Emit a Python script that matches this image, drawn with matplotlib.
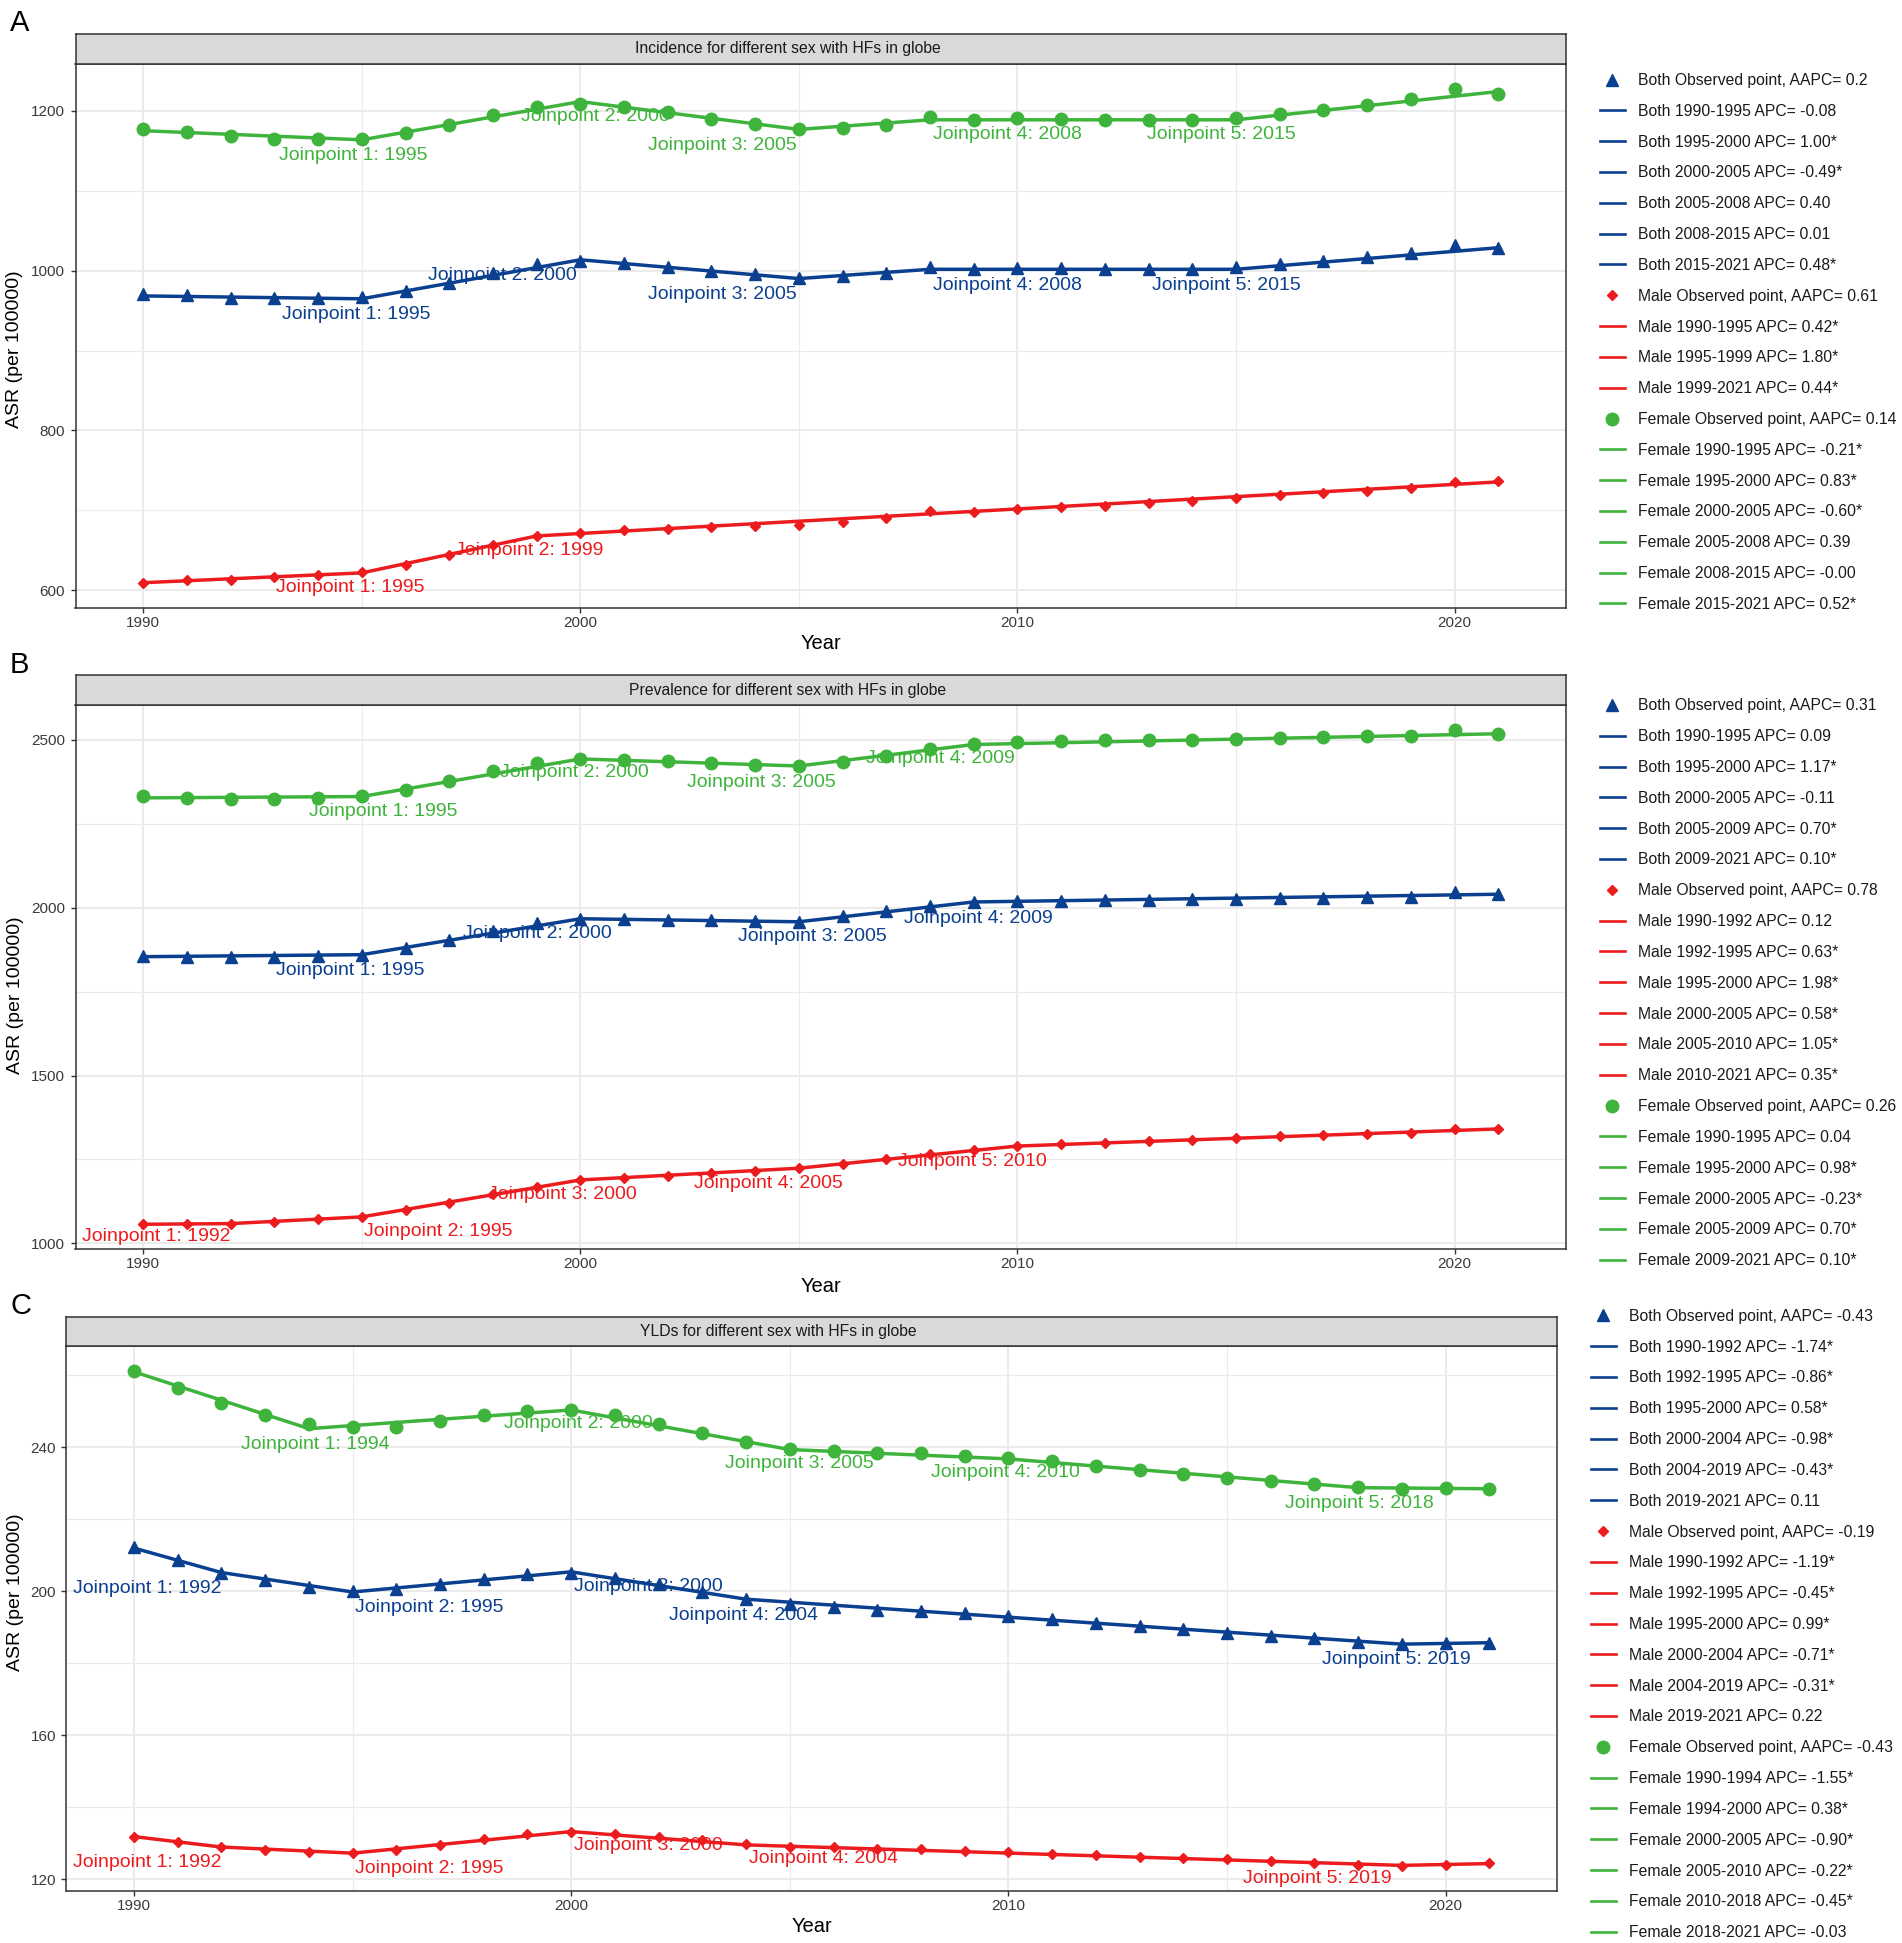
import matplotlib
matplotlib.use('Agg')
import matplotlib.pyplot as plt
from matplotlib.lines import Line2D

plt.rcParams['font.family'] = ['Liberation Sans', 'DejaVu Sans']

# ---------------- DATA ----------------
years = list(range(1990, 2022))

# Panel A: Incidence
inc_both_obs = [970.4, 969.4, 965.2, 965.2, 965.7, 967.3, 974.0, 984.4, 997.4, 1007.8, 1012.0,
                1009.9, 1004.7, 999.0, 995.3, 991.2, 993.2, 996.4, 1004.2, 1001.6, 1003.1, 1002.6,
                1001.6, 1001.6, 1001.6, 1004.2, 1008.3, 1012.5, 1016.6, 1021.8, 1032.2, 1028.6]
inc_male_obs = [608.8, 613.5, 612.5, 616.1, 619.2, 622.9, 632.2, 643.6, 656.6, 668.0, 672.2,
                675.3, 676.9, 679.0, 680.5, 682.0, 685.2, 690.4, 698.7, 697.7, 701.8, 703.9,
                706.0, 709.1, 711.7, 715.8, 719.0, 721.6, 724.7, 727.8, 736.1, 737.1]
inc_female_obs = [1177.7, 1173.5, 1167.8, 1165.2, 1164.2, 1165.2, 1172.0, 1182.3, 1194.8, 1204.7,
                  1208.0, 1205.2, 1199.0, 1189.6, 1183.9, 1177.1, 1178.2, 1182.3, 1192.2, 1188.6,
                  1190.6, 1189.6, 1188.0, 1188.0, 1188.0, 1190.6, 1195.8, 1201.0, 1206.8, 1214.5,
                  1227.5, 1220.8]
inc_both_knots = [1990, 1995, 2000, 2005, 2008, 2015, 2021]
inc_both_fit = [968.3, 964.7, 1013.5, 990.0, 1001.6, 1001.6, 1028.6]
inc_male_knots = [1990, 1995, 1999, 2021]
inc_male_fit = [609.5, 621.8, 668.0, 735.6]
inc_female_knots = [1990, 1995, 2000, 2005, 2008, 2015, 2021]
inc_female_fit = [1175.0, 1163.6, 1211.4, 1176.6, 1188.6, 1188.6, 1224.0]
inc_both_aapc, inc_male_aapc, inc_female_aapc = '0.2', '0.61', '0.14'
inc_both_apc = ['-0.08', '1.00*', '-0.49*', '0.40', '0.01', '0.48*']
inc_male_apc = ['0.42*', '1.80*', '0.44*']
inc_female_apc = ['-0.21*', '0.83*', '-0.60*', '0.39', '-0.00', '0.52*']

# Panel B: Prevalence
prev_both_obs = [1856, 1853, 1853, 1854, 1857, 1860, 1880, 1905, 1931, 1954, 1967, 1967, 1964,
                 1962, 1959, 1958, 1975, 1990, 2005, 2017, 2019, 2021, 2022, 2023, 2025, 2026,
                 2028, 2030, 2032, 2033, 2048, 2042]
prev_male_obs = [1057, 1057, 1058, 1065, 1072, 1079, 1099, 1121, 1146, 1168, 1189, 1196, 1202,
                 1209, 1216, 1225, 1237, 1251, 1265, 1279, 1291, 1295, 1300, 1304, 1309, 1315,
                 1320, 1322, 1326, 1330, 1340, 1341]
prev_female_obs = [2332, 2326, 2325, 2325, 2327, 2333, 2351, 2377, 2406, 2430, 2442, 2441, 2436,
                   2430, 2424, 2422, 2435, 2452, 2473, 2486, 2494, 2496, 2498, 2499, 2500, 2502,
                   2505, 2507, 2510, 2512, 2530, 2517]
prev_both_knots = [1990, 1995, 2000, 2005, 2009, 2021]
prev_both_fit = [1854, 1860, 1967, 1958, 2017, 2040]
prev_male_knots = [1990, 1992, 1995, 2000, 2005, 2010, 2021]
prev_male_fit = [1057, 1059, 1079, 1189, 1224, 1290, 1341]
prev_female_knots = [1990, 1995, 2000, 2005, 2009, 2021]
prev_female_fit = [2327, 2331, 2443, 2422, 2486, 2518]
prev_both_aapc, prev_male_aapc, prev_female_aapc = '0.31', '0.78', '0.26'
prev_both_apc = ['0.09', '1.17*', '-0.11', '0.70*', '0.10*']
prev_male_apc = ['0.12', '0.63*', '1.98*', '0.58*', '1.05*', '0.35*']
prev_female_apc = ['0.04', '0.98*', '-0.23*', '0.70*', '0.10*']

# Panel C: YLDs
yld_both_obs = [212.3, 208.8, 205.2, 203.1, 201.2, 200.1, 200.6, 202.0, 203.4, 204.7, 205.2,
                203.8, 202.0, 199.8, 197.8, 196.5, 195.6, 194.9, 194.6, 193.9, 193.2, 192.3,
                191.2, 190.3, 189.4, 188.5, 187.7, 186.9, 186.0, 185.3, 185.7, 185.6]
yld_male_obs = [131.8, 130.3, 128.9, 128.1, 127.5, 127.2, 128.1, 129.5, 131.0, 132.4, 133.2,
                132.5, 131.7, 130.9, 129.7, 129.0, 128.8, 128.4, 128.3, 127.8, 127.5, 126.9,
                126.6, 126.2, 125.9, 125.5, 125.1, 124.6, 124.0, 123.7, 124.0, 124.4]
yld_female_obs = [261.3, 256.6, 252.4, 248.9, 246.6, 245.6, 245.8, 247.2, 248.9, 250.2, 250.3,
                  248.9, 246.6, 243.9, 241.5, 239.5, 239.0, 238.4, 238.4, 237.6, 237.0, 236.1,
                  234.8, 233.6, 232.5, 231.6, 230.6, 229.7, 228.9, 228.4, 228.7, 228.3]
yld_both_knots = [1990, 1992, 1995, 2000, 2004, 2019, 2021]
yld_both_fit = [212.0, 205.2, 199.8, 205.4, 197.8, 185.3, 185.7]
yld_male_knots = [1990, 1992, 1995, 2000, 2004, 2019, 2021]
yld_male_fit = [131.8, 128.9, 127.2, 133.2, 129.5, 123.8, 124.3]
yld_female_knots = [1990, 1994, 2000, 2005, 2010, 2018, 2021]
yld_female_fit = [261.0, 245.2, 250.4, 239.4, 236.8, 228.8, 228.5]
yld_both_aapc, yld_male_aapc, yld_female_aapc = '-0.43', '-0.19', '-0.43'
yld_both_apc = ['-1.74*', '-0.86*', '0.58*', '-0.98*', '-0.43*', '0.11']
yld_male_apc = ['-1.19*', '-0.45*', '0.99*', '-0.71*', '-0.31*', '0.22']
yld_female_apc = ['-1.55*', '0.38*', '-0.90*', '-0.22*', '-0.45*', '-0.03']

titles = ['Incidence for different sex with HFs in globe',
          'Prevalence for different sex with HFs in globe',
          'YLDs for different sex with HFs in globe']
letters = ['A', 'B', 'C']
sexes = ['Both', 'Male', 'Female']

# ---------------- STYLE / LAYOUT ----------------
COL = {'Both': '#0B3F8F', 'Male': '#EC1C1E', 'Female': '#3FB43C'}
MRK = {'Both': ('^', 9), 'Male': ('D', 5), 'Female': ('o', 9)}
W, H = 1902, 1943

def fx(px):
    return px / W

def fy(py):
    return 1 - py / H

panels = [
    dict(obs=[inc_both_obs, inc_male_obs, inc_female_obs],
         knots=[inc_both_knots, inc_male_knots, inc_female_knots],
         fit=[inc_both_fit, inc_male_fit, inc_female_fit],
         aapc=[inc_both_aapc, inc_male_aapc, inc_female_aapc],
         apc=[inc_both_apc, inc_male_apc, inc_female_apc],
         major=[600, 800, 1000, 1200], minor=[700, 900, 1100],
         left=75.5, right=1566, strip_top=34, top=64, bottom=608, title_x=787.5,
         letter_base=31, ylab=(15, 349.5), xlab_y=643, leg=(1600, 79.2),
         offs=[[(-6, 16), (-78, 16), (-77, 16), (77, 16), (-10, 16)],
               [(-12, 15), (-7, 15)],
               [(-9, 16), (15, 15), (-77, 16), (77, 15), (-15, 15)]]),
    dict(obs=[prev_both_obs, prev_male_obs, prev_female_obs],
         knots=[prev_both_knots, prev_male_knots, prev_female_knots],
         fit=[prev_both_fit, prev_male_fit, prev_female_fit],
         aapc=[prev_both_aapc, prev_male_aapc, prev_female_aapc],
         apc=[prev_both_apc, prev_male_apc, prev_female_apc],
         major=[1000, 1500, 2000, 2500], minor=[1250, 1750, 2250],
         left=75.5, right=1566, strip_top=675, top=705, bottom=1249, title_x=787.8,
         letter_base=673, ylab=(15.3, 995.4), xlab_y=1286, leg=(1600, 704.6),
         offs=[[(-12, 16), (-43, 15), (13, 15), (5, 17)],
               [(-74, 13), (76, 15), (-18, 15), (-30, 15), (-45, 15)],
               [(21, 15), (-6, 14), (-38, 17), (-33, 14)]]),
    dict(obs=[yld_both_obs, yld_male_obs, yld_female_obs],
         knots=[yld_both_knots, yld_male_knots, yld_female_knots],
         fit=[yld_both_fit, yld_male_fit, yld_female_fit],
         aapc=[yld_both_aapc, yld_male_aapc, yld_female_aapc],
         apc=[yld_both_apc, yld_male_apc, yld_female_apc],
         major=[120, 160, 200, 240], minor=[140, 180, 220, 260],
         left=66.3, right=1557, strip_top=1316.6, top=1346, bottom=1890.5, title_x=778.6,
         letter_base=1314, ylab=(15.3, 1592), xlab_y=1927, leg=(1591, 1315),
         offs=[[(-74, 16), (77, 16), (77, 15), (-3, 16), (-5, 15)],
               [(-74, 15), (77, 15), (77, 14), (77, 14), (-84, 13)],
               [(6, 16), (7, 14), (10, 14), (-3, 14), (1, 16)]]),
]

fig = plt.figure(figsize=(W / 100, H / 100), dpi=100)

for p, title, letter in zip(panels, titles, letters):
    l, r, t, b = p['left'], p['right'], p['top'], p['bottom']
    ax = fig.add_axes([fx(l), fy(b), fx(r - l), (b - t) / H])
    sax = fig.add_axes([fx(l), fy(t), fx(r - l), (t - p['strip_top']) / H])

    # strip
    sax.set_facecolor('#D9D9D9')
    sax.set_xticks([]); sax.set_yticks([])
    for s in sax.spines.values():
        s.set_color('#333333'); s.set_linewidth(1.1)
    sax.text((p['title_x'] - l) / (r - l), 0.5, title, ha='center', va='center',
             fontsize=11.3, color='#1A1A1A', transform=sax.transAxes)

    allv = [v for series in p['obs'] for v in series]
    lo, hi = min(allv), max(allv)
    pad = (hi - lo) * 0.05
    ax.set_ylim(lo - pad, hi + pad)
    ax.set_xlim(1990 - 31 * 0.05, 2021 + 31 * 0.05)

    ax.set_xticks([1990, 2000, 2010, 2020])
    ax.set_xticks([1995, 2005, 2015], minor=True)
    ax.set_yticks(p['major'])
    ax.set_yticks(p['minor'], minor=True)
    ax.grid(which='major', color='#EBEBEB', lw=1.4, zorder=0)
    ax.grid(which='minor', color='#EBEBEB', lw=0.8, zorder=0)
    ax.set_axisbelow(True)
    ax.tick_params(which='major', length=3.4, width=1.0, color='#333333',
                   labelsize=11, labelcolor='#3A3A3A')
    ax.tick_params(axis='y', which='major', pad=4)
    ax.tick_params(axis='x', which='major', pad=2.5)
    ax.tick_params(which='minor', length=0)
    for s in ax.spines.values():
        s.set_color('#333333'); s.set_linewidth(1.1)

    handles, labels = [], []
    for i, sex in enumerate(sexes):
        c = COL[sex]
        m, ms = MRK[sex]
        kn, ft = p['knots'][i], p['fit'][i]
        ax.plot(kn, ft, color=c, lw=2.5, solid_capstyle='round', zorder=3)
        ax.plot(years, p['obs'][i], ls='none', marker=m, ms=ms, color=c, zorder=4)
        # joinpoint labels
        for k in range(1, len(kn) - 1):
            dx, dy = p['offs'][i][k - 1]
            ax.annotate('Joinpoint %d: %d' % (k, kn[k]), xy=(kn[k], ft[k]),
                        xytext=(dx, -dy), textcoords='offset pixels',
                        ha='center', va='center', fontsize=14, color=c, zorder=6)
        handles.append(Line2D([], [], ls='none', marker=m, ms=ms, color=c))
        labels.append('%s Observed point, AAPC= %s' % (sex, p['aapc'][i]))
        for j, apc in enumerate(p['apc'][i]):
            handles.append(Line2D([], [], color=c, lw=1.9))
            labels.append('%s %d-%d APC= %s' % (sex, kn[j], kn[j + 1], apc))

    lx, ly = p['leg']
    leg = ax.legend(handles, labels, loc='upper left', bbox_to_anchor=(fx(lx), fy(ly - 6.2)),
                    bbox_transform=fig.transFigure, frameon=False, fontsize=11.3,
                    borderpad=0, borderaxespad=0, handlelength=1.57, handletextpad=0.85,
                    labelspacing=1.008)
    for txt in leg.get_texts():
        txt.set_color('#1A1A1A')

    fig.text(fx(p['ylab'][0]), fy(p['ylab'][1]), 'ASR (per 100000)', rotation=90,
             ha='center', va='center', fontsize=14)
    fig.text(fx((l + r) / 2), fy(p['xlab_y']), 'Year', ha='center', va='center', fontsize=14.5)
    fig.text(fx(10), fy(p['letter_base']), letter, ha='left', va='baseline', fontsize=21)

fig.savefig('out.png', dpi=100)
